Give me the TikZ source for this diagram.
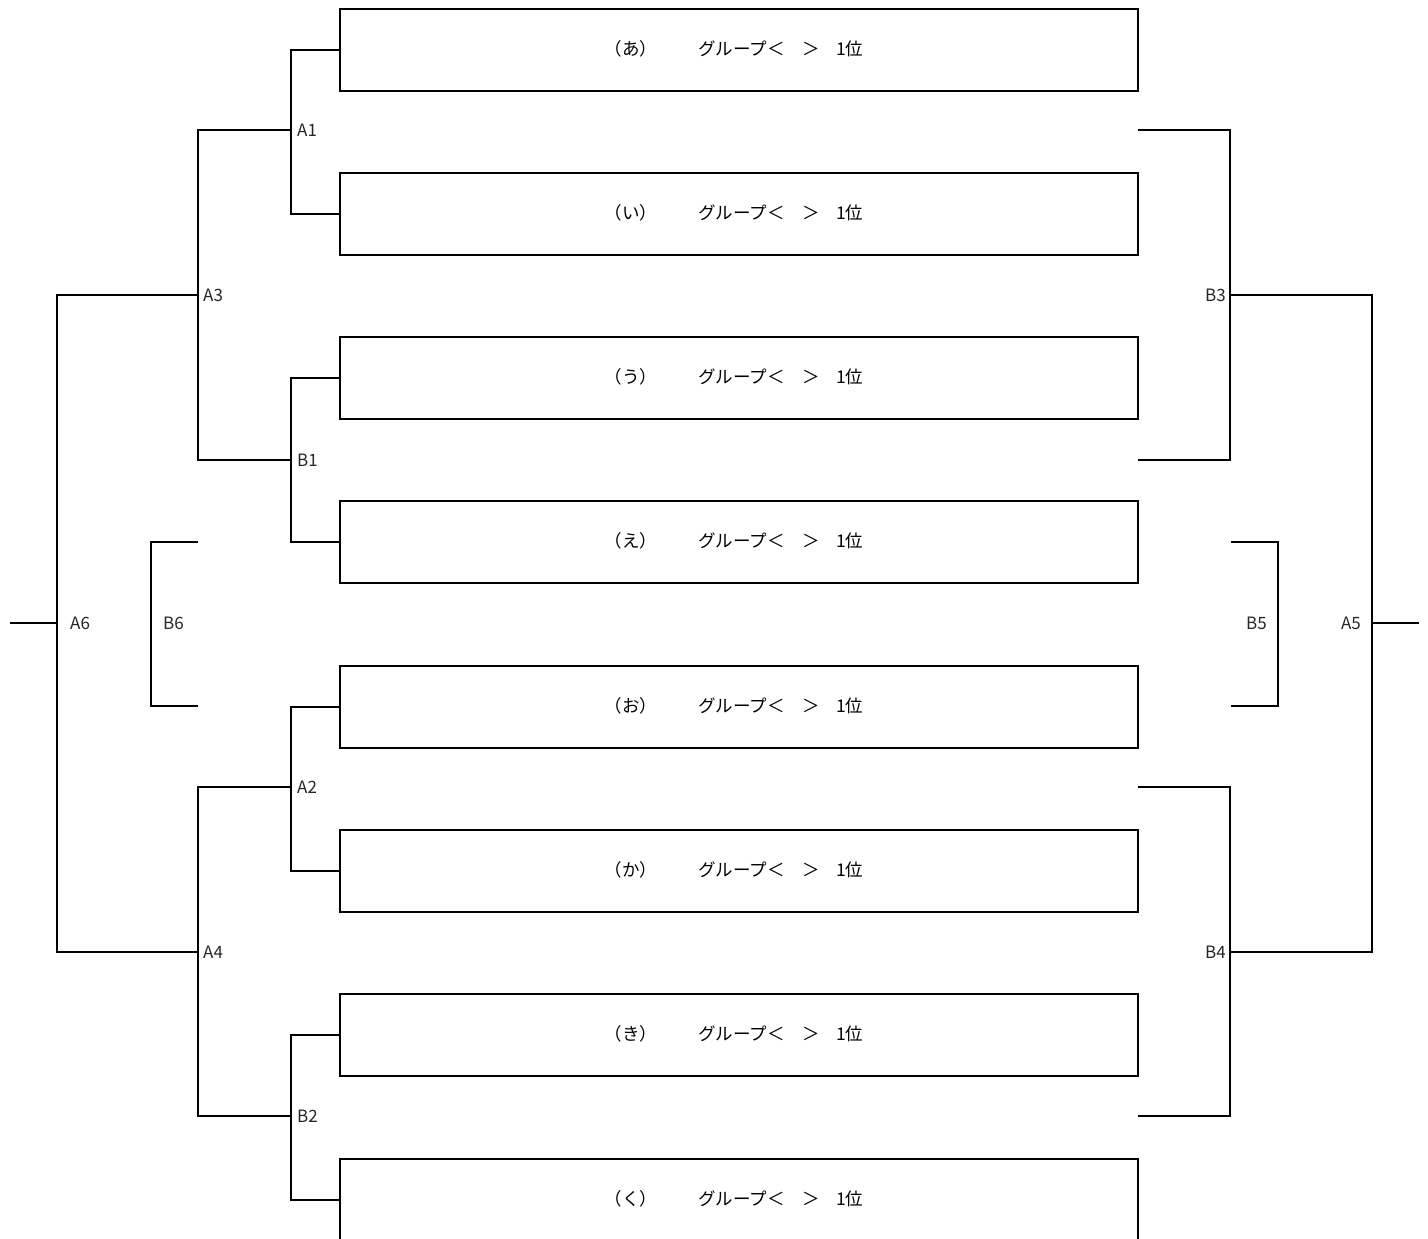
\documentclass[tikz,border=0pt]{standalone}
\usepackage{fontspec}
\setmainfont{Noto Sans CJK JP}
\begin{document}
\begin{tikzpicture}[x=1pt,y=-1pt,
  ln/.style={line width=1.8pt},
  box/.style={draw,line width=1.8pt,minimum width=798pt,minimum height=82pt,inner sep=0pt,anchor=north west},
  txt/.style={font=\fontsize{17.5}{17.5}\selectfont,inner sep=0pt},
  lbl/.style={font=\fontsize{17}{17}\selectfont,inner sep=0pt,text=black!85}]
\useasboundingbox (0,0) rectangle (1428,1239);
\clip (0,0) rectangle (1428,1239);
% boxes
\foreach \i/\y/\k in {1/8/あ,2/172/い,3/336/う,4/500/え,5/665/お,6/829/か,7/993/き,8/1158/く}{
  \node[box] (b\i) at (339,\y) {};
  \node[txt] (k\i) at (631,\y+41) {（\k）};
  \node[txt,anchor=west] (g\i) at (698,\y+41) {グループ＜　＞};
  \node[txt,anchor=west] (r\i) at (836,\y+41) {1位};
}
% left side coordinates
\coordinate (A1) at (291,130);
\coordinate (B1) at (291,460);
\coordinate (A2) at (291,787);
\coordinate (B2) at (291,1116);
\coordinate (A3) at (198,295);
\coordinate (A4) at (198,952);
\coordinate (A6) at (57,623);
\coordinate (A6e) at (10,623);
\draw[ln] (b1.west) -| (A1) |- (b2.west);
\draw[ln] (b3.west) -| (B1) |- (b4.west);
\draw[ln] (b5.west) -| (A2) |- (b6.west);
\draw[ln] (b7.west) -| (B2) |- (b8.west);
\draw[ln] (A1) -| (A3) |- (B1);
\draw[ln] (A2) -| (A4) |- (B2);
\draw[ln] (A3) -| (A6) |- (A4);
\draw[ln] (A6e) -- (A6);
\node[lbl,anchor=west] (lA1) at (297,130) {A1};
\node[lbl,anchor=west] (lB1) at (297,460) {B1};
\node[lbl,anchor=west] (lA2) at (297,787) {A2};
\node[lbl,anchor=west] (lB2) at (297,1116) {B2};
\node[lbl,anchor=west] (lA3) at (203,295) {A3};
\node[lbl,anchor=west] (lA4) at (203,952) {A4};
\node[lbl,anchor=west] (lA6) at (70,623) {A6};
\node[lbl,anchor=west] (lB6) at (163,623) {B6};
% B6 bracket
\coordinate (B6t) at (198,542);
\coordinate (B6b) at (198,706);
\coordinate (B6) at (151,623);
\draw[ln] (B6t) -| (B6) |- (B6b);
% right side
\coordinate (B3t) at (1138,130);
\coordinate (B3b) at (1138,460);
\coordinate (B3) at (1230,295);
\coordinate (B4t) at (1138,787);
\coordinate (B4b) at (1138,1116);
\coordinate (B4) at (1230,952);
\coordinate (A5) at (1372,623);
\coordinate (A5e) at (1419,623);
\draw[ln] (B3t) -| (B3) |- (B3b);
\draw[ln] (B4t) -| (B4) |- (B4b);
\draw[ln] (B3) -| (A5) |- (B4);
\draw[ln] (A5) -- (A5e);
\coordinate (B5t) at (1231,542);
\coordinate (B5b) at (1231,706);
\coordinate (B5) at (1278,623);
\draw[ln] (B5t) -| (B5) |- (B5b);
\node[lbl,anchor=east] (lB3) at (1226,295) {B3};
\node[lbl,anchor=east] (lB4) at (1226,952) {B4};
\node[lbl,anchor=east] (lB5) at (1267,623) {B5};
\node[lbl,anchor=east] (lA5) at (1361,623) {A5};
\end{tikzpicture}
\end{document}
